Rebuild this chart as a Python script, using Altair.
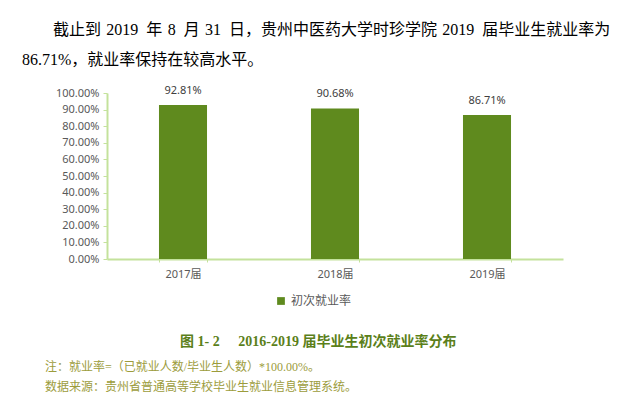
import altair as alt
import pandas as pd

categories = ["2017届", "2018届", "2019届"]
rates = [0.9281, 0.9068, 0.8671]
series_name = "初次就业率"
y_ticks = [0.0, 0.1, 0.2, 0.3, 0.4, 0.5, 0.6, 0.7, 0.8, 0.9, 1.0]

A = "\u2004"
B = "\u2002"
para_line1 = f"截止到{A}2019{B}年{A}8{B}月{A}31{B}日，贵州中医药大学时珍学院{A}2019{B}届毕业生就业率为"
para_line2 = "86.71%，就业率保持在较高水平。"
caption = "图 1- 2\u2003\u20042016-2019 届毕业生初次就业率分布"
note1 = "注：就业率=（已就业人数/毕业生人数）*100.00%。"
note2 = "数据来源：贵州省普通高等学校毕业生就业信息管理系统。"

BAR = "#5f8a1e"
AXIS = "#c4e29c"
SERIF = "Liberation Serif, Noto Sans CJK SC"
SANS = "Noto Sans, Noto Sans CJK SC"

df = pd.DataFrame({"cat": categories, "rate": rates, "series": [series_name] * 3})

base = alt.Chart(df)

x = alt.X("cat:N", sort=categories, title=None,
          scale=alt.Scale(paddingInner=0.684, paddingOuter=0.342),
          axis=alt.Axis(labelAngle=0, labelFontSize=11, labelColor="#595959", labelFont=SANS,
                        labelPadding=6, domainColor=AXIS, domainWidth=2, tickColor=AXIS,
                        tickBand="extent", tickSize=3))
y = alt.Y("rate:Q", title=None,
          scale=alt.Scale(domain=[0, 1], nice=False),
          axis=alt.Axis(values=y_ticks, format=".2%", grid=False, labelFontSize=11,
                        labelOverlap=False, tickCount=11,
                        labelColor="#595959", labelFont=SANS, domainColor=AXIS, domainWidth=2,
                        tickColor=AXIS, tickSize=4, labelPadding=4))

bars = base.mark_bar(stroke=None).encode(
    x=x, y=y,
    color=alt.Color("series:N", title=None,
                    scale=alt.Scale(domain=[series_name], range=[BAR]),
                    legend=alt.Legend(orient="none", legendX=168, legendY=202,
                                      symbolType="square", symbolSize=60, symbolStrokeWidth=0,
                                      labelFontSize=12, labelColor="#595959", labelFont=SANS,
                                      symbolOffset=0, labelOffset=4)),
)

labels = base.mark_text(baseline="bottom", dy=-9, fontSize=11, color="#404040", font=SANS).encode(
    x=x, y=y, text=alt.Text("rate:Q", format=".2%")
)

def txt(s, xv, yv, size, color, font, weight="normal", align="left"):
    return alt.Chart(pd.DataFrame({"t": [s]})).mark_text(
        align=align, baseline="middle", fontSize=size, color=color, font=font, fontWeight=weight
    ).encode(x=alt.value(xv), y=alt.value(yv), text="t:N")

texts = [
    txt(para_line1, -54, -63, 16, "#000000", SERIF),
    txt(para_line2, -85, -33, 16, "#000000", SERIF),
    txt(caption, 73, 249, 14, "#5b7f1a", SERIF, weight="bold"),
    txt(note1, -62, 274, 12, "#9c9c3c", SERIF),
    txt(note2, -62, 294, 12, "#9c9c3c", SERIF),
]

chart = alt.layer(bars, labels, *texts).properties(
    width=456, height=166,
    autosize=alt.AutoSizeParams(type="none"),
    padding={"left": 99, "top": 85, "right": 63, "bottom": 139},
).configure_view(stroke=None)

chart.save("out.html", embed_options={"renderer": "svg", "actions": False})
